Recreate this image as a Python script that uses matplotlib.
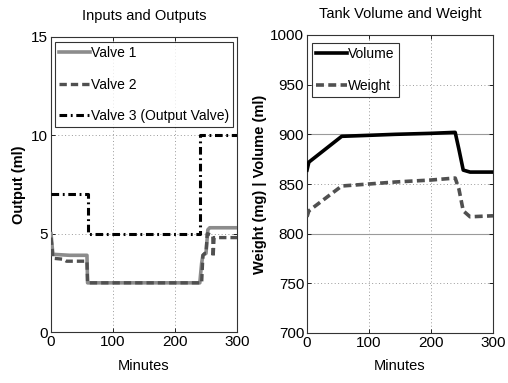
import matplotlib
matplotlib.use("Agg")
import matplotlib.pyplot as plt
from matplotlib import font_manager

# ---------------- data ----------------
t_v1 = [0, 2, 3, 30, 58, 59, 240, 243, 245, 250, 253, 256, 300]
valve1 = [5.0, 4.3, 3.95, 3.9, 3.9, 2.5, 2.5, 3.5, 3.9, 4.0, 5.2, 5.3, 5.3]

t_v2 = [0, 2, 3, 20, 25, 58, 59, 243, 245, 248, 250, 252, 261, 261.5, 263, 300]
valve2 = [4.8, 4.2, 3.75, 3.7, 3.6, 3.6, 2.5, 2.5, 3.9, 4.0, 4.0, 5.0, 4.9, 3.8, 4.8, 4.8]

t_v3 = [0, 60, 60, 240, 240, 300]
valve3 = [7, 7, 5, 5, 10, 10]

t_tank = [0, 3, 56, 100, 142, 200, 239, 245, 252, 263, 300]
volume = [864, 872, 898, 899, 900, 901, 902, 885, 864, 862, 862]
weight = [817, 823, 848, 850, 852, 854, 856, 845, 823, 817, 818]

left_yticks = [0, 5, 10, 15]
right_yticks = [700, 750, 800, 850, 900, 950, 1000]
xticks = [0, 100, 200, 300]

# ---------------- fonts ----------------
avail = {f.name for f in font_manager.fontManager.ttflist}
narrow = [f for f in ["Liberation Sans Narrow", "Liberation Sans", "DejaVu Sans"] if f in avail]
plt.rcParams['font.family'] = narrow
wide = ["Liberation Sans", "DejaVu Sans"]

fig = plt.figure(figsize=(5.08, 3.83), dpi=100)
fig.patch.set_facecolor("white")

ax1 = fig.add_axes([51/508, (383-332)/383, 186/508, 295/383])
ax2 = fig.add_axes([307/508, (383-333)/383, 186/508, 298/383])

grid_kw = dict(color="#9a9a9a", linestyle=(0, (1, 2.5)), linewidth=0.7)
leg_kw = dict(loc="upper left", fontsize=10, frameon=True, fancybox=False,
              edgecolor="black", handlelength=2.2, handletextpad=0.1,
              borderpad=0.3, labelspacing=1.25, borderaxespad=0)

# -------- left --------
ax1.plot(t_v1, valve1, color="#8c8c8c", lw=2.6, label="Valve 1", zorder=3)
ax1.plot(t_v2, valve2, color="#505050", lw=2.4, ls=(0, (2.2, 1.2)), label="Valve 2", zorder=4)
ax1.plot(t_v3, valve3, color="black", lw=2.2, ls=(0, (2.5, 1.2, 0.6, 1.2)),
         label="Valve 3 (Output Valve)", zorder=5)
ax1.set_xlim(0, 300)
ax1.set_ylim(0, 15)
ax1.set_xticks(xticks)
ax1.set_yticks(left_yticks)
ax1.grid(True, **grid_kw)
ax1.set_title("Inputs and Outputs", fontsize=10.5, pad=12)
ax1.set_xlabel("Minutes", fontsize=10.5, labelpad=7)
ax1.set_ylabel("Output (ml)", fontsize=10.5, fontweight="bold", family=wide, labelpad=4)
leg1 = ax1.legend(bbox_to_anchor=(0.022, 0.983), **leg_kw)
leg1.get_frame().set_linewidth(0.8)

# -------- right --------
ax2.axhline(800, color="#9a9a9a", lw=0.8, zorder=1)
ax2.axhline(900, color="#9a9a9a", lw=0.8, zorder=1)
ax2.plot(t_tank, volume, color="black", lw=2.6, label="Volume", zorder=3)
ax2.plot(t_tank, weight, color="#505050", lw=2.6, ls=(0, (2.2, 1.2)), label="Weight", zorder=3)
ax2.set_xlim(0, 300)
ax2.set_ylim(700, 1000)
ax2.set_xticks(xticks)
ax2.set_yticks(right_yticks)
ax2.grid(True, **grid_kw)
ax2.set_title("Tank Volume and Weight", fontsize=10.5, pad=12)
ax2.set_xlabel("Minutes", fontsize=10.5, labelpad=7)
ax2.set_ylabel("Weight (mg) | Volume (ml)", fontsize=10.5, fontweight="bold", family=wide, labelpad=2)
leg2 = ax2.legend(bbox_to_anchor=(0.027, 0.973), **leg_kw)
leg2.get_frame().set_linewidth(0.8)

for ax in (ax1, ax2):
    ax.tick_params(direction="in", length=3, width=0.6, labelsize=11, pad=2,
                   top=True, right=True)
    for s in ax.spines.values():
        s.set_linewidth(0.8)
        s.set_color("#333333")

fig.savefig("out.png", dpi=100, facecolor="white")
